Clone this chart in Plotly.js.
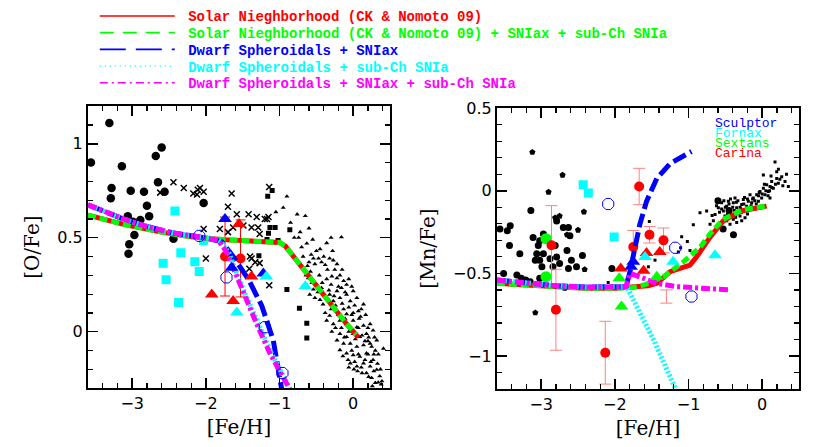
<!DOCTYPE html>
<html>
<head>
<meta charset="utf-8">
<script src="https://cdn.plot.ly/plotly-3.0.1.min.js"></script>
<style>
html, body { margin: 0; padding: 0; background: #fff; }
#chart { width: 817px; height: 447px; }
</style>
</head>
<body>
<div id="chart"></div>
<script>
// ---------- left panel: [O/Fe] vs [Fe/H] ----------
// black filled circles
const oCircFe = [-3.56,-3.31,-3.14,-3.28,-3.29,-3.02,-2.84,-2.80,-3.06,-2.89,-2.99,-2.77,-2.97,-3.04,-3.05,-2.68,-2.60,-2.65,-2.56,-2.03,-2.44];
const oCircO  = [0.90,1.11,0.88,0.765,0.71,0.75,0.745,0.67,0.615,0.595,0.585,0.615,0.515,0.465,0.415,0.935,0.98,0.795,0.745,0.685,0.495];
// black crosses
const oCrossFe = [-2.44,-2.30,-2.17,-2.11,-2.08,-2.03,-2.12,-2.62,-2.03,-2.00,-1.65,-1.70,-1.58,-1.42,-1.81,-1.70,-1.63,-1.38,-1.27,-1.20,-1.15,-1.31,-1.38,-1.27,-1.41,-1.14,-1.14,-1.40,-1.33,-1.49,-1.29,-1.17];
const oCrossO  = [0.795,0.765,0.735,0.755,0.765,0.745,0.73,0.74,0.547,0.39,0.735,0.665,0.625,0.625,0.547,0.53,0.555,0.555,0.52,0.60,0.61,0.61,0.39,0.365,0.335,0.247,0.77,0.40,0.37,0.565,0.555,0.60];
// black small squares
const oSqFe = [-1.10,-1.16,-1.13,-1.06,-1.15,-1.17,-1.02,-0.86,-1.28,-0.90,-0.73,-0.63,-0.63];
const oSqO  = [0.752,0.721,0.555,0.555,0.524,0.49,0.486,0.543,0.404,0.224,0.125,0.045,-0.034];
// black small triangles (disc stars)
const oTriFe = [-0.90,-1.05,-0.76,-0.65,-0.80,-0.74,-0.72,-0.36,-0.16,-0.66,-0.62,-0.58,
  -0.54,-0.47,-0.52,-0.43,-0.38,-0.32,-0.27,-0.22,-0.61,-0.56,-0.50,-0.54,-0.43,-0.36,-0.29,-0.22,-0.18,-0.13,
  -0.09,-0.16,-0.22,-0.32,-0.36,-0.41,-0.45,-0.52,-0.59,-0.27,-0.18,-0.09,0.00,-0.04,0.05,0.14,0.07,0.00,
  -0.09,-0.13,-0.22,-0.32,-0.36,-0.27,-0.18,-0.09,0.00,0.05,0.14,0.23,0.27,0.18,0.09,0.00,-0.09,-0.18,
  -0.22,-0.13,-0.04,0.05,0.14,0.23,0.32,0.41,0.18,0.09,0.00,-0.09,-0.18,0.14,0.23,0.27,0.32,0.36,0.25,
  0.18,0.05,-0.04,0.30,0.39,0.10,0.20,0.28,
  -0.68,-0.64,-0.60,-0.57,-0.50,-0.46,-0.40,-0.35,-0.30,-0.25,-0.20,-0.15,-0.42,-0.48,-0.33,-0.26,-0.11,-0.06,-0.02,
  -0.38,-0.30,-0.24,-0.20,-0.15,-0.11,-0.06,-0.02,0.02,0.08,0.11,0.17,0.20,-0.29,-0.24,-0.16,-0.12,-0.06,0.03,0.07,0.12,0.16,0.21,0.25,0.29,0.34,0.30,
  -0.14,-0.07,-0.02,0.02,0.07,0.11,0.16,0.20,0.24,0.28,0.21,0.12,0.33,0.37,0.38,0.34,0.26,0.06,0.01,-0.06,
  -0.70,-0.63,-0.55,-0.45,-0.28,-0.85,-0.95,-0.60,-0.30];
const oTriO  = [0.72,0.637,0.625,0.616,0.50,0.50,0.53,0.472,0.503,0.33,0.35,0.32,
  0.39,0.39,0.36,0.37,0.355,0.39,0.38,0.36,0.285,0.26,0.25,0.225,0.233,0.28,0.295,0.285,0.30,0.27,
  0.25,0.233,0.216,0.198,0.18,0.146,0.17,0.18,0.198,0.163,0.18,0.198,0.216,0.163,0.18,0.146,0.11,0.10,
  0.094,0.12,0.11,0.085,0.059,0.041,0.059,0.041,0.059,0.024,0.033,0.041,0.007,-0.011,-0.028,-0.011,-0.028,-0.011,
  -0.046,-0.063,-0.063,-0.08,-0.072,-0.063,-0.046,-0.09,-0.115,-0.133,-0.124,-0.115,-0.098,-0.168,-0.185,-0.15,-0.202,-0.237,-0.246,
  -0.22,-0.185,-0.168,-0.272,-0.263,0.08,-0.05,-0.12,
  0.40,0.30,0.37,0.41,0.43,0.30,0.40,0.33,0.25,0.33,0.24,0.33,0.26,0.21,0.22,0.19,0.21,0.28,0.24,
  0.10,0.12,0.14,0.09,0.15,0.07,0.13,0.09,0.14,0.07,0.12,0.09,0.02,0.00,0.02,0.02,-0.03,0.00,-0.04,0.02,-0.02,-0.05,-0.03,-0.08,-0.03,-0.12,-0.10,
  -0.13,-0.15,-0.10,-0.16,-0.12,-0.19,-0.15,-0.12,-0.16,-0.21,-0.24,-0.22,-0.17,-0.20,-0.28,-0.27,-0.29,-0.21,-0.20,-0.19,
  0.45,0.47,0.49,0.44,0.43,0.58,0.66,0.55,0.50];
// dwarf galaxy stars
const oCyanSqFe = [-2.42,-2.34,-2.58,-2.54,-2.15,-2.09,-2.03,-2.37];
const oCyanSqO  = [0.642,0.42,0.364,0.276,0.372,0.32,0.485,0.155];
const oCyanTriFe = [-1.18,-0.65,-1.58];
const oCyanTriO  = [0.294,0.242,0.102];
const oBlueTriFe = [-1.74,-1.65,-1.22];
const oBlueTriO  = [0.60,0.34,0.31];
const oRedTriFe = [-1.55,-1.92,-1.63,-1.38];
const oRedTriO  = [0.573,0.198,0.163,0.294];
const oRedCircFe = [-1.74,-1.53];
const oRedCircO  = [0.40,0.39];
const oRedCircErr = [0.21,0.205];
const oOctFe = [-2.09,-1.72,-1.20,-0.96];
const oOctO  = [0.51,0.289,0.024,-0.22];
// model tracks
const oRedFe   = [-3.6,-3.1,-2.6,-2.2,-1.76,-1.3,-1.0,-0.92,-0.85,-0.72,-0.54,-0.315,-0.09,0.07];
const oRedO    = [0.62,0.57,0.53,0.505,0.49,0.48,0.475,0.455,0.42,0.355,0.268,0.146,0.041,-0.03];
const oGreenFe = [-3.6,-3.1,-2.6,-2.2,-1.76,-1.3,-1.0,-0.92,-0.85,-0.72,-0.54,-0.315,-0.09,0.04];
const oGreenO  = [0.62,0.57,0.53,0.505,0.49,0.48,0.475,0.455,0.42,0.355,0.268,0.146,0.041,-0.015];
const oBlueFe  = [-3.6,-3.12,-2.8,-2.44,-2.1,-1.85,-1.785,-1.63,-1.42,-1.24,-1.085,-0.97];
const oBlueO   = [0.675,0.60,0.56,0.525,0.505,0.49,0.48,0.40,0.277,0.137,-0.046,-0.307];
const oCyanFe  = [-3.6,-3.12,-2.8,-2.44,-2.1,-1.85,-1.80,-1.69,-1.52,-1.29,-1.11,-0.85];
const oCyanO   = [0.675,0.60,0.56,0.525,0.505,0.49,0.48,0.42,0.25,0.04,-0.115,-0.31];
const oMagFe   = [-3.6,-3.12,-2.8,-2.44,-2.1,-1.85,-1.83,-1.72,-1.54,-1.31,-1.13,-0.86];
const oMagO    = [0.675,0.60,0.56,0.525,0.505,0.49,0.486,0.425,0.25,0.041,-0.115,-0.307];

// ---------- right panel: [Mn/Fe] vs [Fe/H] ----------
const mCircFe = [-3.56,-3.46,-3.42,-3.43,-3.29,-3.14,-3.04,-3.06,-3.02,-3.33,-3.27,-3.21,-2.97,-2.88,-2.79,-2.79,-2.70,-2.63,-2.61,-2.65,-2.59,-2.63,-2.52,-2.44,-2.04,-3.51,-3.08,-2.99,-2.84,-2.75,-2.90,-3.02,-3.11,-2.81,-2.97,-3.15,-3.02,-0.53,-0.39,-0.60,-0.45];
const mCircMn = [-0.232,-0.242,-0.212,-0.331,-0.381,-0.119,-0.331,-0.381,-0.42,-0.51,-0.53,-0.54,-0.381,-0.411,-0.401,-0.183,-0.222,-0.222,-0.272,-0.361,-0.42,-0.47,-0.46,-0.391,-0.47,-0.50,-0.42,-0.46,-0.46,-0.44,-0.292,-0.302,-0.282,-0.331,-0.262,-0.55,-0.53,-0.232,-0.266,-0.06,-0.12];
const mPentFe = [-3.12,-2.71,-2.90,-2.42,-2.65,-2.50,-2.75,-2.81,-2.41,-3.08,-2.68];
const mPentMn = [0.234,0.095,-0.008,-0.127,-0.266,-0.238,-0.153,-0.163,-0.476,-0.738,-0.589];
const mDotFe = [-0.618,-0.595,-0.55,-0.527,-0.505,-0.482,-0.459,-0.437,-0.414,-0.392,-0.369,-0.346,-0.324,-0.301,-0.278,-0.256,-0.233,-0.211,-0.188,-0.165,-0.143,-0.12,-0.097,-0.075,-0.052,-0.03,-0.007,0.016,0.038,0.061,0.084,0.106,0.129,0.151,0.197,0.219,0.265,0.31,0.355,0.174,0.197,0.016,0.106,
  -0.392,-0.346,-0.278,-0.233,-0.437,-0.482,-0.64,-0.663,-0.708,-0.754,-0.844,-0.935,-1.093,-1.016,-1.107,-1.138,-0.98,-0.889,-1.532,-1.455,-1.545,-2.09,
  -0.50,-0.45,-0.40,-0.35,-0.30,-0.25,-0.20,-0.15,-0.10,-0.05,0.00,0.05,0.10,-0.55,-0.42,-0.28,
  -0.58,-0.52,-0.47,-0.43,-0.38,-0.33,-0.29,-0.24,-0.19,-0.13,-0.08,-0.04,0.03,0.08,0.13,0.18,0.24,0.28,0.33,0.22,0.12,-0.62,-0.68,-0.50,-0.36,-0.20];
const mDotMn = [-0.053,-0.103,-0.073,-0.123,-0.153,-0.093,-0.063,-0.113,-0.143,-0.073,-0.043,-0.103,-0.133,-0.153,-0.083,-0.053,-0.123,-0.093,-0.063,-0.024,-0.073,-0.043,-0.103,-0.024,-0.063,-0.004,-0.043,0.016,-0.024,0.036,-0.004,0.026,0.056,0.016,0.075,0.046,0.085,0.056,0.026,0.175,0.115,0.095,-0.043,
  -0.173,-0.192,-0.182,-0.163,-0.202,-0.182,-0.143,-0.182,-0.202,-0.123,-0.133,-0.206,-0.278,-0.307,-0.345,-0.371,-0.361,-0.381,-0.186,-0.42,-0.46,-0.555,
  -0.10,-0.08,-0.10,-0.07,-0.10,-0.08,-0.05,-0.09,-0.06,-0.03,-0.02,0.00,0.00,-0.11,-0.15,-0.13,
  -0.13,-0.06,-0.14,-0.05,-0.12,-0.06,-0.11,-0.04,-0.11,-0.05,-0.08,-0.01,0.04,-0.03,0.02,0.04,0.07,0.03,0.10,0.13,0.09,-0.09,-0.15,-0.18,-0.16,-0.14];
const mCyanSqFe = [-2.43,-2.36,-2.01];
const mCyanSqMn = [0.036,-0.014,-0.28];
const mOctFe = [-2.09,-1.18,-0.96];
const mOctMn = [-0.08,-0.345,-0.64];
const mRedCircFe = [-2.86,-2.80,-2.13,-1.67,-1.75,-1.53,-1.34];
const mRedCircMn = [-0.33,-0.72,-0.98,0.026,-0.34,-0.266,-0.30];
const mRedCircErr = [0.24,0.245,0.19,0.11,0.10,0.05,0.075];
const mBarFe = [-1.30];
const mBarMn = [-0.64];
const mBarErr = [0.04];
const mRedTriFe = [-1.92,-1.61,-1.57,-1.39];
const mRedTriMn = [-0.47,-0.484,-0.377,-0.371];
const mGreenTriFe = [-1.94,-1.43,-1.91];
const mGreenTriMn = [-0.53,-0.52,-0.70];
const mGreenCircFe = [-2.935,-2.935];
const mGreenCircMn = [-0.29,-0.52];
const mCyanTriFe = [-1.21,-0.64,-1.59];
const mCyanTriMn = [-0.43,-0.39,-0.40];
const mBlueTriFe = [-1.75,-1.78];
const mBlueTriMn = [-0.43,-0.46];
// model tracks
const mRedFe   = [-3.6,-3.0,-2.4,-2.0,-1.75,-1.55,-1.43,-1.25,-0.98,-0.89,-0.71,-0.53,-0.3,0.06];
const mRedMn   = [-0.56,-0.575,-0.59,-0.59,-0.585,-0.575,-0.56,-0.49,-0.45,-0.40,-0.282,-0.183,-0.123,-0.093];
const mGreenFe = [-3.6,-3.0,-2.4,-2.0,-1.75,-1.6,-1.34,-1.07,-0.84,-0.71,-0.53,-0.26,0.04];
const mGreenMn = [-0.56,-0.575,-0.59,-0.59,-0.585,-0.57,-0.52,-0.43,-0.341,-0.262,-0.173,-0.113,-0.093];
const mBlueFe  = [-3.6,-3.2,-2.8,-2.4,-2.0,-1.85,-1.80,-1.73,-1.66,-1.57,-1.43,-1.25,-0.96];
const mBlueMn  = [-0.54,-0.56,-0.575,-0.583,-0.583,-0.58,-0.50,-0.361,-0.202,-0.064,0.075,0.165,0.238];
const mCyanFe  = [-3.6,-3.2,-2.8,-2.4,-2.0,-1.84,-1.66,-1.48,-1.18];
const mCyanMn  = [-0.54,-0.56,-0.575,-0.583,-0.583,-0.58,-0.738,-0.897,-1.195];
const mMagFe   = [-3.6,-3.2,-2.8,-2.4,-2.0,-1.85,-1.79,-1.66,-1.43,-1.16,-0.75,-0.44];
const mMagMn   = [-0.54,-0.56,-0.575,-0.583,-0.583,-0.58,-0.50,-0.52,-0.56,-0.58,-0.595,-0.60];

const legendNames = [
  'Solar Nieghborhood (CK &amp; Nomoto 09)',
  'Solar Nieghborhood (CK &amp; Nomoto 09) + SNIax + sub-Ch SNIa',
  'Dwarf Spheroidals + SNIax',
  'Dwarf Spheroidals + sub-Ch SNIa',
  'Dwarf Spheroidals + SNIax + sub-Ch SNIa'
];
const galaxyNames = ['Sculptor', 'Fornax', 'Sextans', 'Carina'];

const RED = '#ff0000', GREEN = '#00ff00', BLUE = '#0000ff', CYAN = '#00ffff', MAG = '#ff00ff';

function pts(xs, ys, ax, marker, extra) {
  return Object.assign({
    type: 'scatter', mode: 'markers', x: xs, y: ys,
    xaxis: ax[0], yaxis: ax[1], marker: marker, showlegend: false, hoverinfo: 'skip'
  }, extra || {});
}
function track(xs, ys, ax, color, dash) {
  return {
    type: 'scatter', mode: 'lines', x: xs, y: ys, xaxis: ax[0], yaxis: ax[1],
    line: {color: color, width: 5, dash: dash}, showlegend: false, hoverinfo: 'skip'
  };
}
const L = ['x', 'y'], R = ['x2', 'y2'];
const tri = (c, s) => ({symbol: 'triangle-up', size: s, color: c});
const octo = {symbol: 'octagon-open', size: 12, color: BLUE, line: {color: BLUE, width: 1}};

const data = [
  // left
  pts(oTriFe, oTriO, L, {symbol: 'triangle-up', size: 4.5, color: '#000'}),
  pts(oSqFe, oSqO, L, {symbol: 'square', size: 5, color: '#000'}),
  pts(oCrossFe, oCrossO, L, {symbol: 'x-thin-open', size: 6, color: '#000', line: {color: '#000', width: 1.5}}),
  pts(oCircFe, oCircO, L, {symbol: 'circle', size: 8.5, color: '#000'}),
  pts(oCyanSqFe, oCyanSqO, L, {symbol: 'square', size: 9, color: CYAN}),
  pts(oRedCircFe, oRedCircO, L, {symbol: 'circle', size: 10, color: RED},
      {error_y: {type: 'data', array: oRedCircErr, color: RED, thickness: 1, width: 5}}),
  track(oRedFe, oRedO, L, RED, 'solid'),
  track(oGreenFe, oGreenO, L, GREEN, '8px,4px'),
  track(oBlueFe, oBlueO, L, BLUE, '16px,5px'),
  track(oCyanFe, oCyanO, L, CYAN, '2px,2px'),
  track(oMagFe, oMagO, L, MAG, '9px,3px,3px,3px'),
  pts(oOctFe, oOctO, L, octo),
  pts(oBlueTriFe, oBlueTriO, L, tri(BLUE, 12)),
  pts(oRedTriFe, oRedTriO, L, tri(RED, 12)),
  pts(oCyanTriFe, oCyanTriO, L, tri(CYAN, 12)),
  // right
  pts(mDotFe, mDotMn, R, {symbol: 'square', size: 3, color: '#000'}),
  pts(mCircFe, mCircMn, R, {symbol: 'circle', size: 7, color: '#000'}),
  pts(mPentFe, mPentMn, R, {symbol: 'pentagon', size: 6.5, color: '#000'}),
  pts(mCyanSqFe, mCyanSqMn, R, {symbol: 'square', size: 9, color: CYAN}),
  pts(mGreenCircFe, mGreenCircMn, R, {symbol: 'circle', size: 11, color: GREEN}),
  pts(mBarFe, mBarMn, R, {size: 0.1, color: 'rgba(0,0,0,0)'},
      {error_y: {type: 'data', array: mBarErr, color: '#ff8080', thickness: 1, width: 6}}),
  pts(mRedCircFe, mRedCircMn, R, {symbol: 'circle', size: 10, color: RED},
      {error_y: {type: 'data', array: mRedCircErr, color: '#ff8080', thickness: 1, width: 6}}),
  track(mRedFe, mRedMn, R, RED, 'solid'),
  track(mGreenFe, mGreenMn, R, GREEN, '8px,4px'),
  track(mBlueFe, mBlueMn, R, BLUE, '14px,5px'),
  track(mCyanFe, mCyanMn, R, CYAN, '2px,2px'),
  track(mMagFe, mMagMn, R, MAG, '9px,3px,3px,3px'),
  pts(mOctFe, mOctMn, R, octo),
  pts(mRedTriFe, mRedTriMn, R, tri(RED, 12)),
  pts(mGreenTriFe, mGreenTriMn, R, tri(GREEN, 12)),
  pts(mCyanTriFe, mCyanTriMn, R, tri(CYAN, 12)),
  pts(mBlueTriFe, mBlueTriMn, R, tri(BLUE, 12))
];

// legend entries: one small legend per row so the rows sit 17px apart
const legendStyles = [
  [RED, 'solid'], [GREEN, '14px,9px'], [BLUE, '26px,10px'], [CYAN, '1px,4px'], [MAG, '8px,4px,2px,4px']
];
const legendRowY = [8.5, 25.5, 42.5, 59.5, 76.5];
const layoutLegends = {};
legendNames.forEach((n, i) => {
  const key = i === 0 ? 'legend' : 'legend' + (i + 1);
  data.push({
    type: 'scatter', mode: 'lines', x: [null], y: [null], xaxis: 'x', yaxis: 'y',
    name: '<b><span style="color:' + legendStyles[i][0] + '">\u00a0' + n + '</span></b>',
    line: {color: legendStyles[i][0], width: 1.6, dash: legendStyles[i][1]},
    showlegend: true, legend: key, hoverinfo: 'skip'
  });
  layoutLegends[key] = {
    x: 0.116, y: 1 - legendRowY[i] / 447, xanchor: 'left', yanchor: 'middle',
    bgcolor: 'rgba(0,0,0,0)', borderwidth: 0, itemwidth: 75,
    font: {family: 'Liberation Mono', size: 14}
  };
});

const tickFont = {family: 'DejaVu Sans', size: 16, color: '#000'};
const titleFont = {family: 'DejaVu Serif', size: 20, color: '#000'};
function axis(extra) {
  return Object.assign({
    showline: true, linecolor: '#000', linewidth: 2, mirror: 'allticks',
    ticks: 'inside', ticklen: 10, tickwidth: 1.5, tickcolor: '#000',
    showgrid: false, zeroline: false, tickfont: tickFont, fixedrange: true
  }, extra);
}
const xMinor = {dtick: 0.2, ticklen: 5, tickwidth: 1.2, ticks: 'inside', tickcolor: '#000', showgrid: false};
const yMinor = {dtick: 0.1, ticklen: 5, tickwidth: 1.2, ticks: 'inside', tickcolor: '#000', showgrid: false};

const galaxyColors = [BLUE, CYAN, GREEN, RED];
const galaxyY = [0.738, 0.714, 0.691, 0.668];
const annotations = galaxyNames.map((g, i) => ({
  text: g, xref: 'paper', yref: 'paper', x: 0.874, y: galaxyY[i],
  xanchor: 'left', yanchor: 'middle', showarrow: false, borderpad: 0,
  font: {family: 'Liberation Mono', size: 13, color: galaxyColors[i]}
}));

const layout = Object.assign({
  width: 817, height: 447,
  margin: {l: 0, r: 0, t: 0, b: 0},
  paper_bgcolor: '#fff', plot_bgcolor: '#fff',
  showlegend: true,
  xaxis: axis({domain: [0.1077, 0.4774], range: [-3.6, 0.5], anchor: 'y',
    tick0: 0, dtick: 1, minor: xMinor, title: {text: '[Fe/H]', font: titleFont, standoff: 8}}),
  yaxis: axis({domain: [0.1342, 0.7763], range: [-0.3, 1.2], anchor: 'x',
    tick0: 0, dtick: 0.5, minor: yMinor, title: {text: '[O/Fe]', font: titleFont, standoff: 12}}),
  xaxis2: axis({domain: [0.6083, 0.978], range: [-3.6, 0.5], anchor: 'y2',
    tick0: 0, dtick: 1, minor: xMinor, title: {text: '[Fe/H]', font: titleFont, standoff: 8}}),
  yaxis2: axis({domain: [0.1320, 0.7718], range: [-1.2, 0.5], anchor: 'x2',
    tick0: 0, dtick: 0.5, minor: yMinor, title: {text: '[Mn/Fe]', font: titleFont, standoff: 12}}),
  annotations: annotations
}, layoutLegends);

Plotly.newPlot('chart', data, layout, {displayModeBar: false, staticPlot: true});
</script>
</body>
</html>
